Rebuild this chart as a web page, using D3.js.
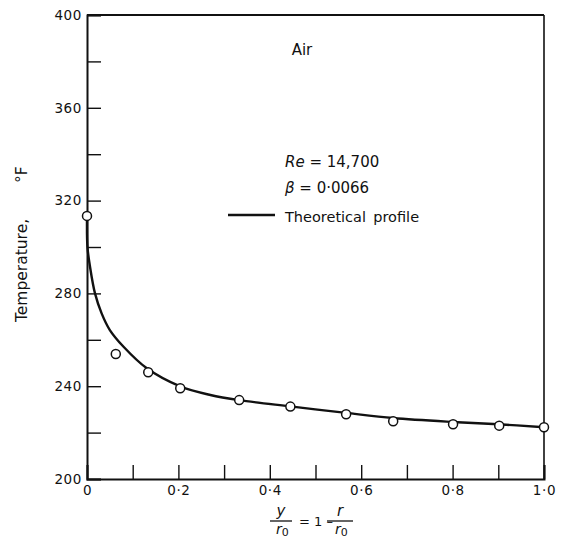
<!DOCTYPE html>
<html>
<head>
<meta charset="utf-8">
<script src="https://cdn.jsdelivr.net/npm/d3@7"></script>
<style>
  body { margin: 0; background: #fff; }
  text { font-family: "DejaVu Sans", sans-serif; fill: #111; }
</style>
</head>
<body>
<script>
// measured points (open circles)
const pointsX = [0, 0.063, 0.134, 0.204, 0.333, 0.445, 0.567, 0.670, 0.801, 0.902, 1.0];
const pointsT = [313.4, 253.9, 246.0, 239.1, 234.0, 231.2, 227.9, 224.9, 223.6, 223.0, 222.3];

// theoretical profile
const curveX = [0, 0.001, 0.0066, 0.0175, 0.032, 0.05, 0.08, 0.131, 0.204, 0.27, 0.333, 0.445, 0.567, 0.67, 0.8, 0.9, 1.0];
const curveT = [312.5, 300, 291.5, 280, 271.4, 264.2, 257, 247.7, 239.9, 236.2, 234, 231.3, 228.5, 226.3, 224.6, 223.6, 222.3];

const yTicks = [200, 220, 240, 260, 280, 300, 320, 340, 360, 380, 400];
const xTicks = [0, 0.1, 0.2, 0.3, 0.4, 0.5, 0.6, 0.7, 0.8, 0.9, 1.0];

const W = 565, H = 542;
const mLeft = 87, mRight = 544, mTop = 15, mBottom = 479;

const svg = d3.select("body").append("svg").attr("width", W).attr("height", H);

const x = d3.scaleLinear().domain([0, 1]).range([mLeft, mRight]);
const y = d3.scaleLinear().domain([200, 400]).range([mBottom, mTop]);

// frame: top and right
svg.append("line").attr("x1", mLeft).attr("x2", mRight).attr("y1", mTop).attr("y2", mTop)
  .attr("stroke", "#111").attr("stroke-width", 2);
svg.append("line").attr("x1", mRight).attr("x2", mRight).attr("y1", mTop).attr("y2", mBottom)
  .attr("stroke", "#111").attr("stroke-width", 1.6);

const fmtX = d => {
  const i = Math.round(d * 10);
  if (i % 2) return "";
  if (i === 0) return "0";
  return (i === 10 ? "1" : "0") + "\u00B7" + (i === 10 ? "0" : i);
};

const yAxis = svg.append("g").attr("transform", `translate(${mLeft},0)`)
  .call(d3.axisLeft(y).tickValues(yTicks).tickSize(-14).tickPadding(5)
    .tickFormat(d => d % 40 === 0 ? d : ""));
const xAxis = svg.append("g").attr("transform", `translate(0,${mBottom})`)
  .call(d3.axisBottom(x).tickValues(xTicks).tickSize(-14).tickPadding(6).tickFormat(fmtX));

[yAxis, xAxis].forEach(g => {
  g.select(".domain").attr("stroke", "#111").attr("stroke-width", 2);
  g.selectAll(".tick line").attr("stroke", "#111").attr("stroke-width", 1.4);
  g.selectAll(".tick text").style("font-family", "DejaVu Sans").style("font-size", "13.5px")
    .style("letter-spacing", "0.6px").attr("fill", "#111");
});

// theoretical curve
const line = d3.line().x(d => x(d[0])).y(d => y(d[1])).curve(d3.curveCatmullRom.alpha(0.5));
svg.append("path").datum(curveX.map((v, i) => [v, curveT[i]]))
  .attr("d", line).attr("fill", "none").attr("stroke", "#111").attr("stroke-width", 2.4);

// data points
svg.selectAll("circle.pt").data(pointsX.map((v, i) => [v, pointsT[i]])).enter()
  .append("circle").attr("class", "pt")
  .attr("cx", d => x(d[0])).attr("cy", d => y(d[1])).attr("r", 4.5)
  .attr("fill", "#fff").attr("stroke", "#111").attr("stroke-width", 1.5);

// annotations
svg.append("text").attr("x", 302).attr("y", 55).attr("text-anchor", "middle")
  .style("font-size", "15px").text("Air");

const re = svg.append("text").attr("x", 285).attr("y", 167).style("font-size", "15px");
re.append("tspan").style("font-style", "italic").text("Re");
re.append("tspan").text(" = 14,700");

const be = svg.append("text").attr("x", 285).attr("y", 193).style("font-size", "15px");
be.append("tspan").style("font-style", "italic").text("\u03B2");
be.append("tspan").text(" = 0\u00B70066");

svg.append("line").attr("x1", 228).attr("x2", 275).attr("y1", 215).attr("y2", 215)
  .attr("stroke", "#111").attr("stroke-width", 2.4);
svg.append("text").attr("x", 285).attr("y", 222).style("font-size", "14.5px")
  .text("Theoretical\u2002profile");

// y axis title
svg.append("text").attr("transform", "translate(27,322) rotate(-90)")
  .style("font-size", "15.5px").text("Temperature,");
svg.append("text").attr("transform", "translate(27,183) rotate(-90)")
  .style("font-size", "15.5px").text("\u00B0F");

// x axis title: y/r0 = 1 - r/r0
const xl = svg.append("g");
xl.append("text").attr("x", 281).attr("y", 516).attr("text-anchor", "middle")
  .style("font-size", "15px").style("font-style", "italic").text("y");
xl.append("line").attr("x1", 270).attr("x2", 292).attr("y1", 521).attr("y2", 521)
  .attr("stroke", "#111").attr("stroke-width", 1.3);
const r0a = xl.append("text").attr("x", 276).attr("y", 534).style("font-size", "14px");
r0a.append("tspan").style("font-style", "italic").text("r");
r0a.append("tspan").attr("dy", 1.5).style("font-size", "11px").text("0");

xl.append("text").attr("x", 299).attr("y", 526).style("font-size", "13px").text("= 1 \u2013");

xl.append("text").attr("x", 340).attr("y", 516).attr("text-anchor", "middle")
  .style("font-size", "15px").style("font-style", "italic").text("r");
xl.append("line").attr("x1", 327).attr("x2", 353).attr("y1", 521).attr("y2", 521)
  .attr("stroke", "#111").attr("stroke-width", 1.3);
const r0b = xl.append("text").attr("x", 335).attr("y", 534).style("font-size", "14px");
r0b.append("tspan").style("font-style", "italic").text("r");
r0b.append("tspan").attr("dy", 1.5).style("font-size", "11px").text("0");
</script>
</body>
</html>
